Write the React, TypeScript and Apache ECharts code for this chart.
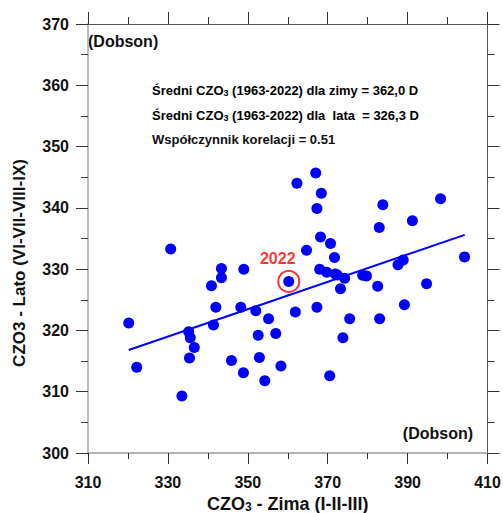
import React, { useEffect, useRef } from "react";
import * as echarts from "echarts";

const winter: number[] = [
  320.2, 322.2, 330.7, 333.5, 335.2, 335.6, 336.6, 335.4, 340.9, 341.4,
  342.0, 343.4, 343.4, 345.9, 348.25, 348.9, 349.0, 352.0, 352.6, 352.9,
  354.25, 355.2, 357.0, 358.3, 360.25, 361.9, 362.3, 364.7, 367.0, 367.3,
  367.3, 368.0, 368.2, 368.4, 369.75, 370.5, 370.7, 371.7, 371.9, 372.4,
  373.2, 373.8, 374.25, 375.5, 378.75, 379.7, 382.5, 382.9, 383.0, 383.8,
  387.6, 388.9, 389.2, 391.2, 394.75, 398.25, 404.25,
];
const summer: number[] = [
  321.2, 314.0, 333.3, 309.3, 319.8, 318.8, 317.2, 315.5, 327.3, 320.9,
  323.8, 330.1, 328.6, 315.1, 323.8, 313.1, 330.0, 323.2, 319.2, 315.6,
  311.8, 321.9, 319.5, 314.2, 328.0, 323.0, 344.0, 333.1, 345.7, 339.9,
  323.8, 330.0, 335.25, 342.4, 329.5, 312.6, 334.2, 331.9, 329.2, 329.05,
  326.8, 318.8, 328.5, 321.9, 329.0, 328.9, 327.2, 336.8, 321.9, 340.5,
  330.7, 331.5, 324.2, 337.9, 327.6, 341.5, 332.0,
];
const trendX: number[] = [320.2, 404.3];
const trendY: number[] = [316.8, 335.6];
const highlightYear = "2022";
const highlightPoint: number[] = [360.25, 328.0];

const xTicks = { min: 310, max: 410, interval: 20 };
const yTicks = { min: 300, max: 370, interval: 10 };

const FONT = "'Liberation Sans', Arial, sans-serif";

export default function App() {
  const ref = useRef<HTMLDivElement>(null);
  useEffect(() => {
    if (!ref.current) return;
    const chart = echarts.init(ref.current, undefined, { renderer: "svg" });
    const pts = winter.map((w, i) => [w, summer[i]]);
    const trend = trendX.map((x, i) => [x, trendY[i]]);
    const axisLbl = {
      fontFamily: FONT,
      fontWeight: 700,
      fontSize: 16,
      color: "#111",
    };
    const rich = {
      a: { fontFamily: FONT, fontWeight: "bold" as const, fontSize: 13, color: "#111", lineHeight: 15 },
      s: { fontFamily: FONT, fontWeight: "bold" as const, fontSize: 9, color: "#111", lineHeight: 15, verticalAlign: "bottom" as const, padding: [6, 0, 0, 0] },
    };
    chart.setOption({
      animation: false,
      grid: { left: 88, right: 15.5, top: 24, bottom: 60, containLabel: false, outerBoundsMode: "none" },
      xAxis: [
        {
          type: "value",
          min: xTicks.min,
          max: xTicks.max,
          interval: xTicks.interval,
          position: "bottom",
          axisLine: { show: true, lineStyle: { color: "#999", width: 1.5 } },
          axisTick: { show: true, length: 11, inside: false, lineStyle: { color: "#333" } },
          minorTick: { show: true, splitNumber: 2, length: 6, lineStyle: { color: "#333" } },
          splitLine: { show: false },
          axisLabel: { ...axisLbl, margin: 21 },
          name: "{a|CZO}{s|3}{a| - Zima (I-II-III)}",
          nameLocation: "middle",
          nameGap: 32,
          nameTextStyle: {
            rich: {
              a: { fontFamily: FONT, fontWeight: "bold", fontSize: 18, color: "#111", lineHeight: 18 },
              s: { fontFamily: FONT, fontWeight: "bold", fontSize: 12, color: "#111", lineHeight: 18, verticalAlign: "bottom", padding: [5, 0, 0, 0] },
            },
          },
        },
        {
          type: "value",
          min: xTicks.min,
          max: xTicks.max,
          interval: xTicks.interval,
          position: "top",
          axisLine: { show: true, lineStyle: { color: "#555", width: 1 } },
          axisTick: { show: true, length: 12, lineStyle: { color: "#333" } },
          minorTick: { show: true, splitNumber: 2, length: 7, lineStyle: { color: "#333" } },
          splitLine: { show: false },
          axisLabel: { show: false },
        },
      ],
      yAxis: [
        {
          type: "value",
          min: yTicks.min,
          max: yTicks.max,
          interval: yTicks.interval,
          position: "left",
          axisLine: { show: true, lineStyle: { color: "#bbb", width: 2 } },
          axisTick: { show: true, length: 12, lineStyle: { color: "#333" } },
          minorTick: { show: true, splitNumber: 2, length: 7, lineStyle: { color: "#333" } },
          splitLine: { show: false },
          axisLabel: { ...axisLbl, margin: 19 },
        },
        {
          type: "value",
          min: yTicks.min,
          max: yTicks.max,
          interval: yTicks.interval,
          position: "right",
          axisLine: { show: true, lineStyle: { color: "#555", width: 1 } },
          axisTick: { show: true, length: 12, lineStyle: { color: "#333" } },
          minorTick: { show: true, splitNumber: 2, length: 7, lineStyle: { color: "#333" } },
          splitLine: { show: false },
          axisLabel: { show: false },
        },
      ],
      series: [
        {
          type: "line",
          data: trend,
          showSymbol: false,
          symbol: "none",
          lineStyle: { color: "#0000ff", width: 2 },
          z: 2,
        },
        {
          type: "scatter",
          data: pts,
          symbol: "circle",
          symbolSize: 11,
          itemStyle: { color: "#0000ff", opacity: 1 },
          z: 3,
        },
        {
          type: "scatter",
          data: [highlightPoint],
          symbol: "circle",
          symbolSize: 21,
          itemStyle: { color: "rgba(0,0,0,0)", borderColor: "#ff0000", borderWidth: 2 },
          label: {
            show: true,
            position: "top",
            distance: 3,
            offset: [-11, 0],
            formatter: highlightYear,
            color: "#ff0000",
            fontFamily: FONT,
            fontWeight: "bold",
            fontSize: 16,
          },
          z: 4,
        },
      ],
      graphic: [
        {
          type: "text",
          rotation: Math.PI / 2,
          x: 19,
          y: 263,
          style: {
            text: "CZO3 - Lato (VI-VII-VIII-IX)",
            fontFamily: FONT,
            fontWeight: "bold",
            fontSize: 17,
            fill: "#111",
            align: "center",
            verticalAlign: "middle",
          },
        },
        {
          type: "text",
          x: 88,
          y: 41,
          style: {
            text: "(Dobson)",
            fontFamily: FONT,
            fontWeight: "bold",
            fontSize: 16,
            fill: "#111",
            align: "left",
            verticalAlign: "middle",
          },
        },
        {
          type: "text",
          x: 473,
          y: 433,
          style: {
            text: "(Dobson)",
            fontFamily: FONT,
            fontWeight: "bold",
            fontSize: 16,
            fill: "#111",
            align: "right",
            verticalAlign: "middle",
          },
        },
        {
          type: "text",
          x: 152,
          y: 90,
          style: {
            text: "{a|Średni CZO}{s|3}{a| (1963-2022) dla zimy = 362,0 D}",
            rich,
            align: "left",
            verticalAlign: "middle",
          },
        },
        {
          type: "text",
          x: 152,
          y: 115,
          style: {
            text: "{a|Średni CZO}{s|3}{a| (1963-2022) dla  lata  = 326,3 D}",
            rich,
            align: "left",
            verticalAlign: "middle",
          },
        },
        {
          type: "text",
          x: 152,
          y: 139,
          style: {
            text: "Współczynnik korelacji = 0.51",
            fontFamily: FONT,
            fontWeight: "bold",
            fontSize: 13,
            fill: "#111",
            align: "left",
            verticalAlign: "middle",
          },
        },
      ],
    });
    return () => chart.dispose();
  }, []);
  return <div ref={ref} style={{ width: 503, height: 513, position: "absolute", left: 0, top: 0 }} />;
}
